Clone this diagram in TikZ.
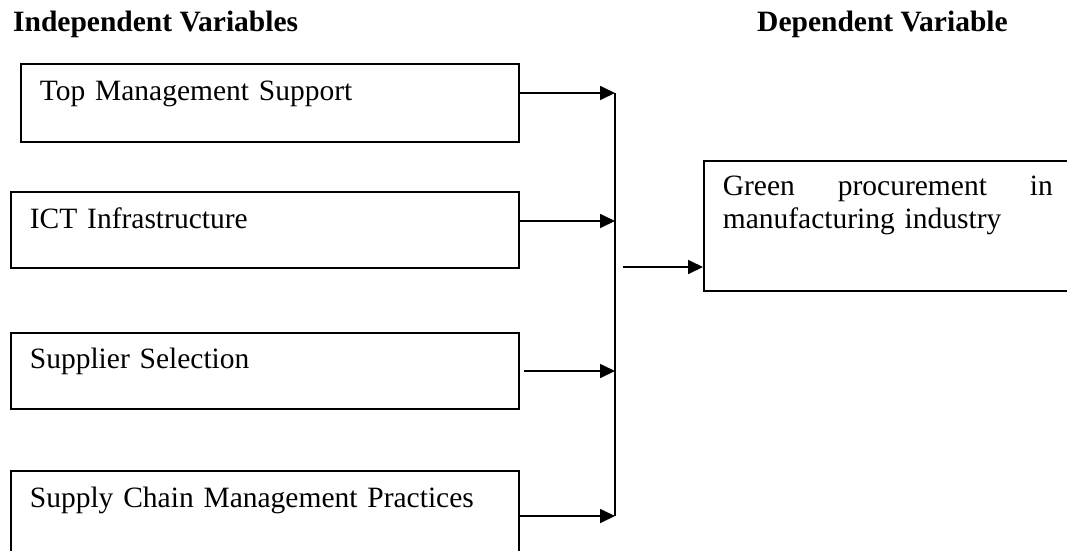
\documentclass[tikz,border=0pt]{standalone}
\usepackage{fontspec}
\setmainfont{Liberation Serif}
\usepackage{tikz}
\usetikzlibrary{arrows.meta, positioning, calc}

\tikzset{
    varbox/.style={draw, line width=1.7pt, anchor=north west, align=left,
        inner xsep=19pt, inner ysep=0pt, text height=37pt, text depth=40pt,
        font=\fontsize{29.5}{33}\selectfont},
    heading/.style={anchor=base west, inner sep=0pt,
        font=\fontsize{29.5}{33}\selectfont\bfseries},
    feed/.style={line width=1.7pt, -{Triangle[length=15pt, width=14pt]}}
}

\begin{document}
\begin{tikzpicture}[x=1pt, y=-1pt]
    \useasboundingbox (0,0) rectangle (1067,550);
    \clip (0,0) rectangle (1067,550);

    % Headings
    \node[heading] (indep) at (13,31) {Independent Variables};
    \node[heading] (dep) at (757,31) {Dependent Variable};

    % Independent variables
    \node[varbox, text width=460pt, text depth=41pt] (topmgmt) at (20,63) {Top Management Support};
    \node[varbox, text width=470pt, text depth=39pt] (ict) at (10,191) {ICT Infrastructure};
    \node[varbox, text width=470pt, text height=36pt] (supplier) at (10,332) {Supplier Selection};
    \node[varbox, text width=470pt, text depth=60pt] (scm) at (10,470) {Supply Chain Management Practices};

    % Dependent variable
    \node[varbox, text width=330pt, text height=35pt, text depth=95pt] (green) at (703,160)
        {Green\hfill procurement\hfill in\\manufacturing industry};

    % Collecting line
    \coordinate (bus1) at (615,93);
    \coordinate (bus2) at (615,221);
    \coordinate (bus3) at (615,371);
    \coordinate (bus4) at (615,516);
    \coordinate (out) at (623,267);
    \draw[line width=1.7pt] (bus1) -- (bus4);

    % Arrows
    \draw[feed] (topmgmt.east |- bus1) -- (bus1);
    \draw[feed] (ict.east |- bus2) -- (bus2);
    \draw[feed] ([xshift=4pt]supplier.east |- bus3) -- (bus3);
    \draw[feed] (scm.east |- bus4) -- (bus4);
    \draw[feed] (out) -- (green.west |- out);
\end{tikzpicture}
\end{document}
